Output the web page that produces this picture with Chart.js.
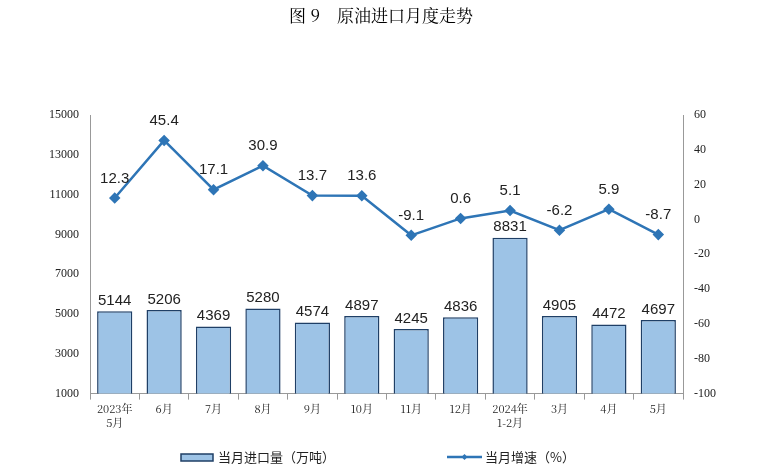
<!DOCTYPE html>
<html><head><meta charset="utf-8">
<script src="https://cdn.jsdelivr.net/npm/chart.js@4"></script>
<style>html,body{margin:0;padding:0;background:#fff}#w{width:763px;height:474px}</style>
</head><body><div id="w"><canvas id="c"></canvas></div>
<script>
const categories=[["2023年","5月"],"6月","7月","8月","9月","10月","11月","12月",["2024年","1-2月"],"3月","4月","5月"];
const importVolume=[5144,5206,4369,5280,4574,4897,4245,4836,8831,4905,4472,4697];
const growthRate=[12.3,45.4,17.1,30.9,13.7,13.6,-9.1,0.6,5.1,-6.2,5.9,-8.7];
const leftTicks=[1000,3000,5000,7000,9000,11000,13000,15000];
const rightTicks=[-100,-80,-60,-40,-20,0,20,40,60];
const title="图 9　原油进口月度走势";
const seriesNames=["当月进口量（万吨）","当月增速（%）"];
const lineColor="#2E75B6", barFill="#9DC3E6", barBorder="#1F3F66";

const deco={id:'deco',afterDatasetsDraw(ch){
 const c=ch.ctx; c.save();
 c.fillStyle='#000';c.font='17px "Noto Serif CJK SC","Noto Sans CJK SC",serif';c.textAlign='center';c.textBaseline='middle';
 c.fillText(title,381,16);
 c.font='15px "Liberation Sans",Arial';c.fillStyle='#222';c.textBaseline='bottom';
 const m0=ch.getDatasetMeta(0),m1=ch.getDatasetMeta(1);
 m0.data.forEach((b,i)=>c.fillText(importVolume[i],b.x,b.y-3));
 m1.data.forEach((p,i)=>c.fillText(growthRate[i],p.x,p.y-12));
 c.font='13px "Noto Sans CJK SC"';c.textAlign='left';c.textBaseline='middle';
 const y=457;
 c.fillStyle=barFill;c.strokeStyle=barBorder;c.lineWidth=1.5;c.fillRect(181,y-3,32,7);c.strokeRect(181,y-3,32,7);
 c.fillStyle='#222';c.fillText(seriesNames[0],218,y);
 c.strokeStyle=lineColor;c.lineWidth=2.5;c.beginPath();c.moveTo(447,y);c.lineTo(482,y);c.stroke();
 c.fillStyle=lineColor;c.beginPath();c.moveTo(464.5,y-3);c.lineTo(467.5,y);c.lineTo(464.5,y+3);c.lineTo(461.5,y);c.fill();
 c.fillStyle='#222';c.fillText(seriesNames[1],485,y);
 c.restore();
}};
const tf={color:'#222',font:{size:12,family:'"Liberation Serif",serif'},callback:v=>String(v)};
new Chart(document.getElementById('c'),{
 data:{labels:categories,datasets:[
  {type:'bar',data:importVolume,backgroundColor:barFill,borderColor:barBorder,borderWidth:1.5,yAxisID:'y',categoryPercentage:0.75,barPercentage:0.95,order:2},
  {type:'line',data:growthRate,borderColor:lineColor,backgroundColor:lineColor,borderWidth:2.5,pointStyle:'rectRot',pointRadius:4,yAxisID:'y1',order:1}
 ]},
 options:{responsive:true,maintainAspectRatio:false,animation:false,
  layout:{padding:{top:115,bottom:42,left:46,right:44}},
  plugins:{legend:{display:false},tooltip:{enabled:false}},
  scales:{
   x:{grid:{display:true,drawOnChartArea:false,color:'#999',tickLength:6,offset:true},border:{color:'#999'},
      ticks:{color:'#222',font:{size:11,family:'"Noto Serif CJK SC","Noto Sans CJK SC",serif'},maxRotation:0,autoSkip:false}},
   y:{min:1000,max:15000,afterBuildTicks:a=>{a.ticks=leftTicks.map(v=>({value:v}))},grid:{display:false},border:{color:'#999'},ticks:tf},
   y1:{position:'right',min:-100,max:60,afterBuildTicks:a=>{a.ticks=rightTicks.map(v=>({value:v}))},grid:{display:false},border:{color:'#999'},ticks:tf}
  }},
 plugins:[deco]
});
</script></body></html>
